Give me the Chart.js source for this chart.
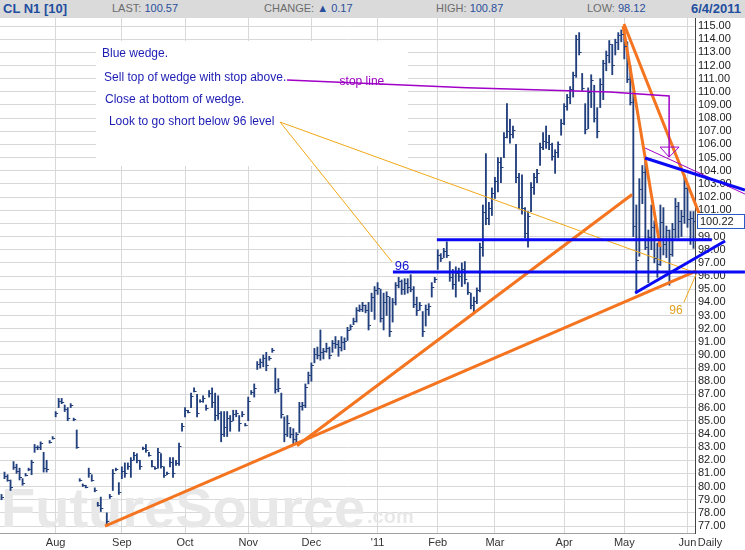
<!DOCTYPE html>
<html lang="en">
<head>
  <meta charset="UTF-8">
  <title>CL N1 [10] - Daily</title>
  <script src="https://cdn.jsdelivr.net/npm/chart.js"></script>
  <style>
    body { margin: 0; background: #fff; font-family: "Liberation Sans", Arial, sans-serif; }
    #head { position: relative; width: 745px; height: 18px; background: #dadada; font-size: 11px; color: #6c6c6c; }
    #head span { position: absolute; top: 2px; white-space: nowrap; }
    #head b { color: #1f4ea0; font-size: 13px; }
    #head .v { color: #2a4f9c; font-style: normal; }
    #wrap { width: 745px; height: 532px; }
  </style>
</head>
<body>
  <div id="head">
    <span style="left:3px;top:1px"><b>CL N1 [10]</b></span>
    <span style="left:112px">LAST: <i class="v">100.57</i></span>
    <span style="left:264px">CHANGE: <i class="v">&#9650; 0.17</i></span>
    <span style="left:436px">HIGH: <i class="v">100.87</i></span>
    <span style="left:587px">LOW: <i class="v">98.12</i></span>
    <span style="left:691px;top:1px"><b>6/4/2011</b></span>
  </div>
  <div id="wrap"><canvas id="chart"></canvas></div>

  <script>
    // daily bars, [low, high, close], one array per month
    const jul10 = [[79.0,79.4,79.2],[80.6,81.1,80.8],[80.4,80.9,80.5],[79.7,80.5,80.0],[81.3,81.9,81.5],[81.0,81.7,81.2],
      [80.5,81.4,80.7],[80.1,80.6,80.3],[80.8,81.0,80.9],[81.2,81.4,81.3],[80.9,82.0,81.9],[82.6,83.2,83.0],
      [82.8,83.1,83.0],[82.8,83.4,83.3],[81.1,82.6,81.4],[81.1,82.0,81.3],[83.3,83.5,83.4],[83.6,83.8,83.7]];
    const aug10 = [[85.3,85.7,85.6],[86.0,86.7,86.5],[86.3,86.7,86.4],[85.7,86.2,85.9],[85.0,86.0,85.2],[86.0,86.3,86.2],
      [85.0,85.2,85.1],[82.9,84.3,83.0],[80.4,80.6,80.5],[80.0,80.2,80.1],[79.9,80.1,80.0],[80.7,81.4,81.0],
      [80.4,80.9,80.5],[79.6,79.9,79.7],[78.5,78.8,78.6],[78.1,79.2,78.4],null,[77.1,78.0,77.4],
      [79.1,79.4,79.3],[79.7,81.3,81.0],[81.2,81.4,81.3],[79.4,80.3,79.6]];
    const sep10 = [[80.6,81.5,81.2],[80.7,81.8,81.0],[81.3,81.8,81.6],[80.7,82.2,82.0],[82.0,82.6,82.4],[81.8,82.5,82.0],
      [81.3,82.0,81.6],[82.8,83.0,82.9],[82.6,83.2,82.8],[82.3,82.6,82.4],[81.5,82.0,81.6],[81.3,81.5,81.4],
      [81.4,82.9,82.6],[81.4,82.5,81.6],[80.7,81.5,80.9],[80.9,81.1,81.0],[81.5,82.2,81.9],[80.7,82.2,81.0],
      [81.6,82.0,81.8],[81.6,83.3,83.1],[84.2,84.8,84.6]];
    const oct10 = [[85.3,86.0,85.8],[85.6,85.8,85.7],[86.0,87.1,86.9],[87.2,87.5,87.3],[85.3,87.0,85.6],[86.4,86.6,86.5],
      [86.4,86.9,86.7],[85.8,86.2,86.0],[86.8,87.3,87.1],[86.0,87.5,86.4],[85.0,87.1,85.4],[85.1,86.9,85.6],
      [83.4,85.7,84.0],[83.8,85.7,84.5],[83.8,85.7,85.2],[84.2,85.4,85.0],[85.0,85.8,85.5],[85.3,85.8,85.6],
      [84.2,85.4,84.8],[85.3,85.7,85.5],[84.6,84.8,84.7]];
    const nov10 = [[85.0,86.8,86.5],[87.0,87.3,87.2],[86.8,87.8,87.5],[88.9,89.5,89.3],[89.0,89.7,89.5],[89.1,90.0,89.8],
      [88.8,90.2,89.2],[89.6,89.9,89.8],[90.2,90.5,90.4],[87.1,89.0,87.4],[87.2,88.2,87.5],[85.2,87.1,85.5],
      [83.4,85.3,84.0],[83.8,85.4,84.8],[83.7,84.5,84.0],[83.2,84.4,83.6],[83.2,84.1,84.0],[84.1,86.4,86.1],
      [85.8,86.4,86.2],[86.0,87.8,87.6],[87.8,88.7,88.5]];
    const dec10 = [[88.0,89.4,89.2],[89.4,90.5,90.1],[89.7,90.6,90.0],[89.6,91.9,90.2],[89.7,90.5,90.3],[90.2,90.9,90.5],
      [89.7,90.6,90.0],[90.2,91.1,90.9],[90.5,91.4,90.8],[89.9,91.1,90.6],[90.3,91.4,91.0],[90.4,91.3,91.1],
      [91.1,92.1,91.9],[91.9,92.3,92.2],[92.3,92.8,92.6],[92.5,93.6,93.4],[93.3,93.8,93.5],[93.3,94.0,93.8],
      [93.2,93.8,93.4],[91.9,94.0,92.3],[93.3,94.7,94.4],[92.7,95.2,94.9]];
    const jan11 = [[94.6,95.5,95.1],[92.5,95.0,92.8],[91.9,94.7,94.0],[93.0,94.8,94.5],[91.4,94.4,91.8],[92.5,94.3,94.0],
      [93.8,95.5,95.3],[95.1,95.9,95.6],[94.6,95.7,95.0],[94.6,95.8,95.5],[94.7,95.8,95.2],[94.8,96.1,95.0],
      [93.6,95.2,93.9],[93.0,94.4,93.4],[93.4,94.0,93.8],[91.4,93.3,91.8],[92.2,93.8,93.5],[93.0,93.9,93.7],
      [94.4,95.5,95.2],[95.5,95.9,95.8]];
    const feb11 = [[96.5,98.0,97.6],[97.1,97.7,97.4],[97.4,98.1,97.9],[97.4,98.6,97.6],[95.6,97.1,95.9],[95.0,96.5,95.4],
      [94.4,96.7,96.2],[95.6,96.6,96.0],[95.2,97.0,96.5],[95.4,97.1,95.8],[94.6,95.5,94.8],[93.5,94.7,93.8],
      [93.2,94.4,94.1],[93.9,95.1,94.9],[94.8,98.5,98.2],[97.5,101.4,100.9],[99.9,105.3,100.4],[99.9,101.6,101.2],
      [100.6,102.7,102.3]];
    const mar11 = [[101.9,103.5,103.2],[102.4,105.0,104.7],[103.1,105.0,104.3],[105.0,106.9,106.6],[106.5,109.1,107.0],
      [106.1,107.9,106.8],[106.5,107.4,107.1],[103.1,106.0,103.5],[101.1,103.8,102.0],[100.7,103.7,101.2],
      [98.9,101.2,99.3],[98.2,100.9,100.6],[100.9,103.1,102.8],[102.2,103.8,103.5],[103.1,104.1,103.8],
      [104.4,106.1,105.8],[105.6,106.9,106.3],[105.7,107.4,106.2],[105.6,106.7,106.0],[104.8,106.1,105.1],
      [103.8,105.6,105.4],[105.0,106.2,106.0],[106.7,107.9,107.6]];
    const apr11 = [[107.5,109.1,108.9],[108.6,109.8,109.6],[109.1,110.4,110.2],[109.6,111.5,111.3],[111.1,114.3,114.0],
      [112.8,114.5,113.0],[110.1,111.4,110.3],[106.8,109.1,107.2],[107.2,110.3,110.0],[108.8,111.3,110.9],
      [107.7,110.5,108.0],[106.5,108.8,107.0],[108.8,111.0,110.6],[109.4,112.4,112.2],[111.6,113.1,112.8],
      [112.2,113.9,113.6],[111.3,113.6,112.0],[112.8,114.0,113.8],[113.2,114.5,114.3],[113.8,114.7,114.4]];
    const may11 = [[112.5,114.9,113.5],[110.7,113.8,111.0],[109.0,112.0,109.2],[99.0,110.0,99.8],[94.7,101.4,97.2],
      [97.5,103.4,102.6],[101.5,104.4,103.9],[98.0,104.8,98.2],[95.5,99.5,99.0],[98.0,101.4,99.7],
      [97.0,100.2,97.4],[95.9,98.5,96.9],[96.8,101.4,100.1],[97.6,101.2,98.4],[97.4,99.8,99.5],
      [95.3,99.5,97.7],[97.5,100.0,99.6],[98.9,101.9,101.3],[98.9,101.6,100.2],[99.0,101.0,100.6],
      [100.0,103.7,102.7]];
    const jun11 = [[99.7,102.8,100.3],[98.4,100.9,100.4],[98.1,100.9,100.22]];

    const monthBars = [aug10, sep10, oct10, nov10, dec10, jan11, feb11, mar11, apr11, may11, jun11];
    const months = ['Aug', 'Sep', 'Oct', 'Nov', 'Dec', "'11", 'Feb', 'Mar', 'Apr', 'May', 'Jun'];
    const yTicks = [77, 78, 79, 80, 81, 82, 83, 84, 85, 86, 87, 88, 89, 90, 91, 92, 93, 94, 95, 96,
      97, 98, 99, 100, 101, 102, 103, 104, 105, 106, 107, 108, 109, 110, 111, 112, 113, 114, 115];

    // hand drawn studies: [bar index, price] points
    const orangeThick = [
      [[34.4, 77.0], [231.0, 96.4]],
      [[98.2, 83.1], [209.6, 102.2]],
      [[206.6, 115.0], [218.9, 98.2]],
      [[206.9, 115.15], [231.8, 100.8]]
    ];
    const orangeThin = [
      [[92.6, 107.7], [231.2, 96.2]],
      [[92.6, 107.7], [129.8, 97.07]],
      [[231.2, 96.3], [226.8, 94.0]]
    ];
    const blueLines = [
      [[130.1, 96.3], [247.1, 96.3]],
      [[144.7, 98.75], [236.1, 98.75]],
      [[213.9, 104.97], [247.1, 102.54]],
      [[210.6, 94.71], [240.5, 98.66]]
    ];
    const magentaLines = [
      [[94.9, 110.9], [154.7, 110.3], [202.2, 109.98], [221.9, 109.68], [221.9, 105.04]],
      [[218.9, 105.8], [225.2, 105.8], [221.9, 105.04], [218.9, 105.8]],
      [[213.9, 105.73], [247.1, 102.23]]
    ];

    const bars = [].concat(jul10, ...monthBars);
    const monthStart = [];
    let n = jul10.length;
    monthBars.forEach(m => { monthStart.push(n); n += m.length; });
    const lastClose = jun11[jun11.length - 1][2];

    const FONT = '"Liberation Sans", Arial, sans-serif';
    const notes = {
      box: [31.4, 113.86, 135.1, 104.36],
      texts: [
        { t: 'Blue wedge.', x: 33.4, y: 112.87, c: '#1c1cb4' },
        { t: 'Sell top of wedge with stop above.', x: 34.1, y: 111.05, c: '#1c1cb4' },
        { t: 'Close at bottom of wedge.', x: 34.4, y: 109.38, c: '#1c1cb4' },
        { t: 'Look to go short below 96 level', x: 35.7, y: 107.70, c: '#1c1cb4' }
      ],
      labels: [
        { t: 'stop line', x: 119.8, y: 110.74, c: '#9a00c0', size: 12 },
        { t: '96', x: 133.1, y: 96.75, c: '#1010d0', size: 13 },
        { t: '96', x: 224.2, y: 93.35, c: '#e0a020', size: 12 }
      ]
    };

    function lineSet(pts, color, width) {
      return {
        type: 'line', data: pts.map(p => ({ x: p[0], y: p[1] })),
        borderColor: color, borderWidth: width, pointRadius: 0,
        fill: false, tension: 0, clip: false, order: 0
      };
    }

    const overlay = {
      id: 'overlay',
      beforeDatasetsDraw(chart) {
        const { ctx, chartArea: a, scales: { x, y } } = chart;
        ctx.save();
        // watermark
        ctx.fillStyle = '#e8e8e8';
        ctx.font = 'bold 56px ' + FONT;
        ctx.textBaseline = 'alphabetic';
        ctx.fillText('FutureSource', a.left + 1, a.bottom - 6);
        const w = ctx.measureText('FutureSource').width;
        ctx.font = 'bold 20px ' + FONT;
        ctx.fillText('.com', a.left + 3 + w, a.bottom - 10);
        // note box
        const b = notes.box;
        const bx = x.getPixelForValue(b[0]), by = y.getPixelForValue(b[1]);
        ctx.fillStyle = '#fff';
        ctx.fillRect(bx, by, x.getPixelForValue(b[2]) - bx, y.getPixelForValue(b[3]) - by);
        ctx.font = '12px ' + FONT;
        ctx.textBaseline = 'middle';
        notes.texts.forEach(t => {
          ctx.fillStyle = t.c;
          ctx.fillText(t.t, x.getPixelForValue(t.x), y.getPixelForValue(t.y));
        });
        ctx.restore();
      },
      afterDatasetsDraw(chart) {
        const { ctx, scales: { x, y } } = chart;
        ctx.save();
        // close ticks
        ctx.strokeStyle = '#23407e';
        ctx.lineWidth = 1;
        ctx.beginPath();
        bars.forEach((b, i) => {
          if (!b) return;
          const px = x.getPixelForValue(i), py = Math.round(y.getPixelForValue(b[2])) + 0.5;
          ctx.moveTo(px, py);
          ctx.lineTo(px + 2.5, py);
        });
        ctx.stroke();
        ctx.textAlign = 'center';
        ctx.textBaseline = 'middle';
        notes.labels.forEach(l => {
          ctx.font = l.size + 'px ' + FONT;
          ctx.fillStyle = l.c;
          ctx.fillText(l.t, x.getPixelForValue(l.x), y.getPixelForValue(l.y));
        });
        ctx.restore();
      },
      afterDraw(chart) {
        const { ctx, chartArea: a, scales: { y } } = chart;
        ctx.save();
        ctx.font = '11px ' + FONT;
        ctx.fillStyle = '#333';
        ctx.textAlign = 'center';
        ctx.textBaseline = 'middle';
        ctx.fillText('Daily', a.right + 15, a.bottom + 10);
        // last price box
        const cy = Math.round(y.getPixelForValue(lastClose));
        ctx.fillStyle = '#fff';
        ctx.fillRect(a.right + 2, cy - 7, 47, 14);
        ctx.strokeStyle = '#2a5cc8';
        ctx.strokeRect(a.right + 2.5, cy - 6.5, 47, 14);
        ctx.fillStyle = '#222';
        ctx.textAlign = 'left';
        ctx.fillText(lastClose.toFixed(2), a.right + 5, cy + 0.5);
        ctx.restore();
      }
    };

    const datasets = [];
    blueLines.forEach(l => datasets.push(lineSet(l, '#0a0af5', 3)));
    magentaLines.forEach((l, i) => datasets.push(lineSet(l, '#a000c8', i === 0 ? 1.5 : 1)));
    orangeThin.forEach(l => datasets.push(lineSet(l, '#f0a818', 1)));
    orangeThick.forEach(l => datasets.push(lineSet(l, '#f47420', 3)));
    datasets.push({
      type: 'bar',
      data: bars.map((b, i) => b ? { x: i, y: [b[0], b[1]] } : null).filter(Boolean),
      backgroundColor: '#23407e',
      barThickness: 1.2,
      order: 10
    });

    new Chart(document.getElementById('chart'), {
      type: 'bar',
      data: { datasets: datasets },
      options: {
        responsive: true,
        maintainAspectRatio: false,
        animation: false,
        layout: { padding: 0 },
        plugins: { legend: { display: false }, tooltip: { enabled: false } },
        scales: {
          x: {
            type: 'linear', min: -0.5, max: bars.length - 0.5, offset: false,
            grid: { color: '#d8d8d8', drawTicks: false, offset: false },
            border: { color: '#a0a0a0' },
            afterBuildTicks: s => { s.ticks = monthStart.map(v => ({ value: v })); },
            afterFit: s => { s.height = 17; s.paddingLeft = 0; s.paddingRight = 0; },
            ticks: {
              autoSkip: false, maxRotation: 0, padding: 3, color: '#333',
              font: { size: 11, family: FONT },
              callback: v => months[monthStart.indexOf(v)]
            }
          },
          y: {
            position: 'right', min: 76.47, max: 115.61,
            grid: { color: '#d8d8d8', drawTicks: false },
            border: { color: '#444' },
            afterBuildTicks: s => { s.ticks = yTicks.map(v => ({ value: v })); },
            afterFit: s => { s.width = 50; s.paddingTop = 0; s.paddingBottom = 0; },
            ticks: {
              autoSkip: false, padding: 3, color: '#222',
              font: { size: 11, family: FONT },
              callback: v => Number(v).toFixed(2)
            }
          }
        }
      },
      plugins: [overlay]
    });
  </script>
</body>
</html>
